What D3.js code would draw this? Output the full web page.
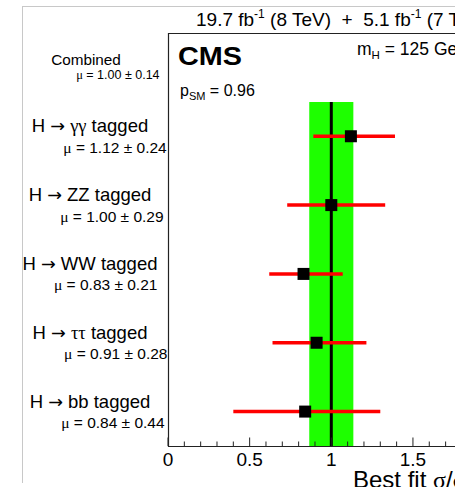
<!DOCTYPE html>
<html><head><meta charset="utf-8">
<script src="https://cdn.jsdelivr.net/npm/d3@7"></script>
<style>
html,body{margin:0;padding:0;background:#fff;}
text{font-family:"Liberation Sans",Arial,Helvetica,sans-serif;white-space:pre;}
</style></head>
<body>
<svg id="c" width="471" height="487"></svg>
<script>
// ---- data ----
const categories = ["Combined", "H → γγ tagged", "H → ZZ tagged", "H → WW tagged", "H → ττ tagged", "H → bb tagged"];
const channels = ["H → γγ tagged", "H → ZZ tagged", "H → WW tagged", "H → ττ tagged", "H → bb tagged"];
const muValues = [1.12, 1.00, 0.83, 0.91, 0.84];
const errLow = [0.89, 0.73, 0.62, 0.64, 0.40];
const errHigh = [1.39, 1.33, 1.07, 1.215, 1.30];
const muLabels = ["μ = 1.12 ± 0.24", "μ = 1.00 ± 0.29", "μ = 0.83 ± 0.21", "μ = 0.91 ± 0.28", "μ = 0.84 ± 0.44"];
const combined = {mu: 1.00, lo: 0.865, hi: 1.135, label: "μ = 1.00 ± 0.14"};
const majorTicks = [0, 0.5, 1, 1.5];
const minorTicks = [0.1,0.2,0.3,0.4,0.6,0.7,0.8,0.9,1.1,1.2,1.3,1.4,1.6,1.7];
const tickLabels = ["0", "0.5", "1", "1.5"];

// ---- layout ----
const svg = d3.select("#c");
const L = 168, T = 33, B = 446, R = 455;
const x = d3.scaleLinear().domain([0, 1.7575]).range([L, R]);
const y = d3.scaleBand().domain(categories).range([T, B]).padding(0);
const yc = c => y(c) + y.bandwidth() / 2;

svg.append("defs").append("clipPath").attr("id", "clip")
  .append("rect").attr("x", 0).attr("y", 0).attr("width", R).attr("height", 487);
const g = svg.append("g").attr("clip-path", "url(#clip)");

// helper: put Greek letters in a serif face, arrow in DejaVu
function richText(sel, str) {
  const runs = [];
  for (const ch of str) {
    let f = "sans";
    if (/[α-ωΑ-Ωμ±]/.test(ch)) f = (ch === "±") ? "sans" : "serif";
    if (ch === "→") f = "arrow";
    if (runs.length && runs[runs.length - 1].f === f) runs[runs.length - 1].s += ch;
    else runs.push({f, s: ch});
  }
  runs.forEach(r => {
    const t = sel.append("tspan").text(r.s);
    if (r.f === "serif") t.attr("font-family", "'Liberation Serif','DejaVu Serif',serif");
    if (r.f === "arrow") t.attr("font-family", "'DejaVu Sans',sans-serif").attr("font-size", "0.95em");
  });
  return sel;
}

// outer pad border
g.append("line").attr("x1", 22.5).attr("x2", 22.5).attr("y1", 6).attr("y2", 483).attr("stroke", "#c8c8c8");
g.append("line").attr("x1", 22).attr("x2", R + 5).attr("y1", 6.5).attr("y2", 6.5).attr("stroke", "#c8c8c8");

// green band & SM line
const bandTop = 102;
g.append("rect").attr("x", x(combined.lo)).attr("width", x(combined.hi) - x(combined.lo))
  .attr("y", bandTop).attr("height", B - bandTop).attr("fill", "#1eff00");
g.append("line").attr("x1", x(combined.mu)).attr("x2", x(combined.mu))
  .attr("y1", bandTop).attr("y2", B).attr("stroke", "#000").attr("stroke-width", 3);

// error bars and markers
channels.forEach((c, i) => {
  g.append("line").attr("x1", x(errLow[i])).attr("x2", x(errHigh[i]))
    .attr("y1", yc(c)).attr("y2", yc(c)).attr("stroke", "#ff0000").attr("stroke-width", 3.5);
});
channels.forEach((c, i) => {
  g.append("rect").attr("x", x(muValues[i]) - 6).attr("y", yc(c) - 6)
    .attr("width", 12).attr("height", 12).attr("fill", "#000");
});

// frame
g.append("path").attr("d", `M${R + 20},${T + 0.5}H${L + 0.5}V${B + 0.5}H${R + 20}`)
  .attr("fill", "none").attr("stroke", "#222").attr("stroke-width", 1.2);

// ticks
majorTicks.forEach(t => {
  g.append("line").attr("x1", x(t)).attr("x2", x(t)).attr("y1", B).attr("y2", B - 8.5)
    .attr("stroke", "#222");
});
minorTicks.forEach(t => {
  g.append("line").attr("x1", x(t)).attr("x2", x(t)).attr("y1", B).attr("y2", B - 4.5)
    .attr("stroke", "#222");
});
majorTicks.forEach((t, i) => {
  g.append("text").attr("x", x(t)).attr("y", 466).attr("text-anchor", "middle")
    .attr("font-size", 19).text(tickLabels[i]);
});

// axis title
const at = g.append("text").attr("x", 353).attr("y", 488).attr("font-size", 24);
at.append("tspan").text("Best fit ");
at.append("tspan").attr("font-family", "'Liberation Serif',serif").text("σ");
at.append("tspan").text("/");
at.append("tspan").attr("font-family", "'Liberation Serif',serif").text("σ");
at.append("tspan").attr("font-size", 16).attr("dy", 5).text("SM");

// top lumi text
const lt = g.append("text").attr("x", 196).attr("y", 25.5).attr("font-size", 19);
lt.append("tspan").text("19.7 fb");
lt.append("tspan").attr("font-size", 12).attr("dy", -8).text("-1");
lt.append("tspan").attr("dy", 8).text(" (8 TeV)  +  5.1 fb");
lt.append("tspan").attr("font-size", 12).attr("dy", -8).text("-1");
lt.append("tspan").attr("dy", 8).text(" (7 TeV)");

// CMS
g.append("text").attr("x", 178).attr("y", 65).attr("font-size", 26).attr("font-weight", "bold")
  .attr("textLength", 64).attr("lengthAdjust", "spacingAndGlyphs").text("CMS");

// mH
const mh = g.append("text").attr("x", 357).attr("y", 55).attr("font-size", 17.5);
mh.append("tspan").text("m");
mh.append("tspan").attr("font-size", 11.5).attr("dy", 4).text("H");
mh.append("tspan").attr("dy", -4).text(" = 125 GeV");

// pSM
const ps = g.append("text").attr("x", 180).attr("y", 96).attr("font-size", 16);
ps.append("tspan").text("p");
ps.append("tspan").attr("font-size", 11).attr("dy", 4).text("SM");
ps.append("tspan").attr("dy", -4).text(" = 0.96");

// Combined label
const ct = g.append("text").attr("x", 86).attr("y", 65).attr("text-anchor", "middle")
  .attr("font-size", 15.3).text("Combined");
const cbb = ct.node().getBBox();
richText(g.append("text").attr("x", cbb.x + 25).attr("y", 78.5).attr("font-size", 12.5), combined.label);

// channel labels
channels.forEach((c, i) => {
  const t = richText(g.append("text").attr("x", 90).attr("y", yc(c) - 4).attr("text-anchor", "middle")
    .attr("font-size", 18.5), c);
  const bb = t.node().getBBox();
  richText(g.append("text").attr("x", bb.x + 31.5).attr("y", yc(c) + 16.5).attr("font-size", 15.5),
    muLabels[i]);
});
</script>
</body></html>
